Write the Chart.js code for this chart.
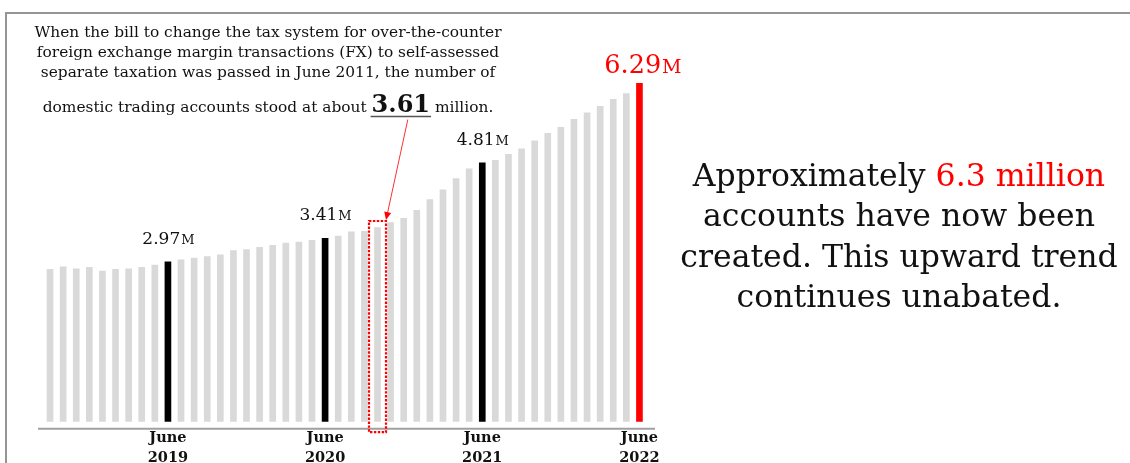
<!DOCTYPE html>
<html>
<head>
<meta charset="utf-8">
<title>FX trading accounts</title>
<script src="https://cdn.jsdelivr.net/npm/chart.js@4"></script>
<style>
  html, body { margin: 0; padding: 0; background: #fff; }
  #wrap { position: relative; width: 1130px; height: 463px; overflow: hidden; }
  #frame {
    position: absolute; left: 5px; top: 12px; right: -20px; bottom: -20px;
    border-top: 2px solid #959595; border-left: 2px solid #959595;
  }
  #accountsChart { position: absolute; left: 0; top: 0; }
</style>
</head>
<body>
<div id="wrap">
  <div id="frame"></div>
  <canvas id="accountsChart"></canvas>
</div>
<script>
const serif = '"DejaVu Serif", "Liberation Serif", serif';

// monthly domestic FX trading accounts, millions
const months = [
  '2018-09', '2018-10', '2018-11', '2018-12',
  '2019-01', '2019-02', '2019-03', '2019-04', '2019-05', '2019-06',
  '2019-07', '2019-08', '2019-09', '2019-10', '2019-11', '2019-12',
  '2020-01', '2020-02', '2020-03', '2020-04', '2020-05', '2020-06',
  '2020-07', '2020-08', '2020-09', '2020-10', '2020-11', '2020-12',
  '2021-01', '2021-02', '2021-03', '2021-04', '2021-05', '2021-06',
  '2021-07', '2021-08', '2021-09', '2021-10', '2021-11', '2021-12',
  '2022-01', '2022-02', '2022-03', '2022-04', '2022-05', '2022-06'
];
const accounts = [
  2.83, 2.88, 2.84, 2.87,
  2.80, 2.83, 2.84, 2.87, 2.91, 2.97,
  3.01, 3.04, 3.07, 3.10, 3.18, 3.20,
  3.24, 3.28, 3.32, 3.34, 3.37, 3.41,
  3.45, 3.53, 3.54, 3.61, 3.70, 3.78,
  3.93, 4.13, 4.31, 4.52, 4.70, 4.81,
  4.86, 4.97, 5.07, 5.22, 5.36, 5.47,
  5.62, 5.74, 5.86, 5.99, 6.10, 6.29
];
const tickMonth = 'June';
const markedMonths = ['2019-06', '2020-06', '2021-06'];
const latestMonth = '2022-06';
const boxedMonth = '2020-10';

const noteLines = [
  'When the bill to change the tax system for over-the-counter',
  'foreign exchange margin transactions (FX) to self-assessed',
  'separate taxation was passed in June 2011, the number of'
];
const noteLast = ['domestic trading accounts stood at about ', '3.61', ' million.'];
const summaryLines = [
  [['Approximately ', '#111'], ['6.3 million', '#ff0000']],
  [['accounts have now been', '#111']],
  [['created. This upward trend', '#111']],
  [['continues unabated.', '#111']]
];

const barColors = months.map(m => {
  if (m === latestMonth) return '#ff0000';
  if (markedMonths.includes(m)) return '#000000';
  return '#d9d9d9';
});

function drawValue(ctx, value, x, y, size, color) {
  const num = value.toFixed(2);
  const small = Math.round(size * 0.74);
  ctx.font = size + 'px ' + serif;
  const w1 = ctx.measureText(num).width;
  ctx.font = small + 'px ' + serif;
  const w2 = ctx.measureText('M').width;
  const start = x - (w1 + w2) / 2;
  ctx.fillStyle = color;
  ctx.textAlign = 'left';
  ctx.textBaseline = 'alphabetic';
  ctx.font = size + 'px ' + serif;
  ctx.fillText(num, start, y);
  ctx.font = small + 'px ' + serif;
  ctx.fillText('M', start + w1 + 1, y);
}

const annotations = {
  id: 'annotations',
  afterDatasetsDraw(chart) {
    const ctx = chart.ctx;
    const meta = chart.getDatasetMeta(0);
    const area = chart.chartArea;
    const base = chart.scales.y.getPixelForValue(0);
    ctx.save();

    // axis line sits a little below the bar bottoms
    ctx.strokeStyle = '#a0a0a0';
    ctx.lineWidth = 2;
    ctx.beginPath();
    ctx.moveTo(area.left - 5.5, base + 7);
    ctx.lineTo(area.right + 9, base + 7);
    ctx.stroke();

    // values above highlighted bars
    months.forEach((m, i) => {
      const bar = meta.data[i];
      if (m === latestMonth) drawValue(ctx, accounts[i], bar.x + 3, bar.y - 10, 25.5, '#ff0000');
      else if (markedMonths.includes(m)) drawValue(ctx, accounts[i], bar.x, bar.y - 18, 17, '#111');
    });

    // note in the upper left
    const noteX = 268;
    const smallFont = '15.4px ' + serif;
    const bigFont = 'bold 24px ' + serif;
    ctx.fillStyle = '#111';
    ctx.textAlign = 'center';
    ctx.textBaseline = 'alphabetic';
    ctx.font = smallFont;
    noteLines.forEach((line, i) => ctx.fillText(line, noteX, 37 + i * 20));

    const wa = ctx.measureText(noteLast[0]).width;
    const wc = ctx.measureText(noteLast[2]).width;
    ctx.font = bigFont;
    const wb = ctx.measureText(noteLast[1]).width;
    const nx = noteX - (wa + wb + wc) / 2;
    const ny = 111.5;
    ctx.textAlign = 'left';
    ctx.font = smallFont;
    ctx.fillText(noteLast[0], nx, ny);
    ctx.font = bigFont;
    const bigX = nx + wa;
    ctx.fillText(noteLast[1], bigX, ny);
    ctx.font = smallFont;
    ctx.fillText(noteLast[2], bigX + wb, ny);
    ctx.strokeStyle = '#555';
    ctx.lineWidth = 1.5;
    ctx.beginPath();
    ctx.moveTo(bigX - 1, ny + 5);
    ctx.lineTo(bigX + wb + 1, ny + 5);
    ctx.stroke();

    // dotted box round the bar the note refers to
    const boxed = meta.data[months.indexOf(boxedMonth)];
    const bx = boxed.x - 8.5, by = boxed.y - 6.5, bw = 17, bh = base + 10.5 - by;
    ctx.strokeStyle = '#ff0000';
    ctx.lineWidth = 2.2;
    ctx.setLineDash([2.4, 1.5]);
    ctx.strokeRect(bx, by, bw, bh);
    ctx.setLineDash([]);

    // arrow from the underlined figure to the box
    const ax = bigX + wb * 0.62, ay = ny + 8;
    const tx = bx + bw, ty = by - 1;
    const ang = Math.atan2(ty - ay, tx - ax);
    ctx.strokeStyle = '#ff3030';
    ctx.lineWidth = 1;
    ctx.beginPath();
    ctx.moveTo(ax, ay);
    ctx.lineTo(tx - 6 * Math.cos(ang), ty - 6 * Math.sin(ang));
    ctx.stroke();
    ctx.fillStyle = '#ff0000';
    ctx.beginPath();
    ctx.moveTo(tx, ty);
    ctx.lineTo(tx - 8 * Math.cos(ang) + 3.5 * Math.sin(ang), ty - 8 * Math.sin(ang) - 3.5 * Math.cos(ang));
    ctx.lineTo(tx - 8 * Math.cos(ang) - 3.5 * Math.sin(ang), ty - 8 * Math.sin(ang) + 3.5 * Math.cos(ang));
    ctx.closePath();
    ctx.fill();

    // summary on the right
    ctx.font = '31.5px ' + serif;
    summaryLines.forEach((parts, i) => {
      const total = parts.reduce((s, p) => s + ctx.measureText(p[0]).width, 0);
      let x = 899 - total / 2;
      parts.forEach(p => {
        ctx.fillStyle = p[1];
        ctx.fillText(p[0], x, 186 + i * 40.3);
        x += ctx.measureText(p[0]).width;
      });
    });

    ctx.restore();
  }
};

new Chart(document.getElementById('accountsChart'), {
  type: 'bar',
  data: {
    labels: months,
    datasets: [{
      data: accounts,
      backgroundColor: barColors,
      barThickness: 6,
      borderWidth: 0
    }]
  },
  options: {
    responsive: true,
    maintainAspectRatio: false,
    animation: false,
    layout: { padding: { left: 43.5, right: 484, top: 45.1, bottom: 0 } },
    plugins: {
      legend: { display: false },
      tooltip: { enabled: false }
    },
    scales: {
      x: {
        offset: true,
        grid: { display: false, drawTicks: false },
        border: { display: false },
        afterFit(scale) { scale.height = 41.3; },
        ticks: {
          autoSkip: false,
          maxRotation: 0,
          minRotation: 0,
          padding: 7,
          color: '#111',
          font: { family: serif, size: 14.5, weight: 'bold', lineHeight: 1.35 },
          callback(value, index) {
            const m = months[index];
            return m.endsWith('-06') ? [tickMonth, m.slice(0, 4)] : '';
          }
        }
      },
      y: {
        display: false,
        min: 0,
        max: 7
      }
    }
  },
  plugins: [annotations]
});
</script>
</body>
</html>
